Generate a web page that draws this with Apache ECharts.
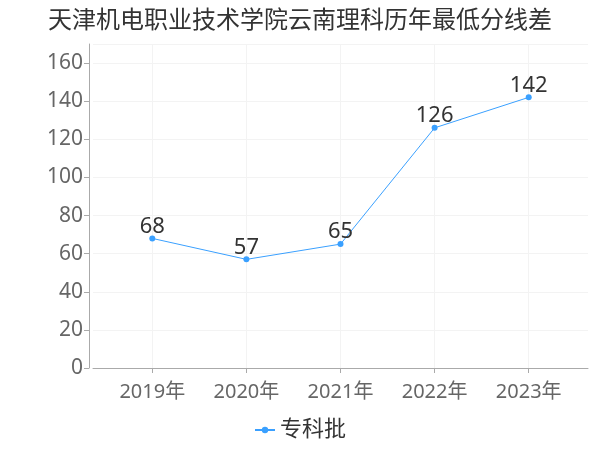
<!DOCTYPE html>
<html><head><meta charset="utf-8">
<script src="https://cdn.jsdelivr.net/npm/echarts@6/dist/echarts.min.js"></script>
<style>html,body{margin:0;padding:0;background:#fff}#c{width:600px;height:450px}</style>
</head><body><div id="c"></div>
<script>
const titleText = '天津机电职业技术学院云南理科历年最低分线差';
const years = [2019, 2020, 2021, 2022, 2023];
const yearLabels = ['2019年', '2020年', '2021年', '2022年', '2023年'];
const seriesName = '专科批';
const values = [68, 57, 65, 126, 142];

const font = '"Noto Sans", "Noto Sans CJK SC", sans-serif';
const chart = echarts.init(document.getElementById('c'));
chart.setOption({
  animation: false,
  textStyle: { fontFamily: font },
  title: {
    text: titleText, left: 'center', top: 4,
    textStyle: { fontSize: 24, fontWeight: 'normal', color: '#333', fontFamily: font }
  },
  legend: {
    bottom: 4, left: 'center', data: [seriesName],
    itemWidth: 20, itemHeight: 8,
    textStyle: { fontSize: 22, color: '#333', fontFamily: font }
  },
  grid: { left: 93, right: 12, top: 44, bottom: 82 },
  xAxis: {
    type: 'value', min: 2018.37, max: 2023.63,
    offset: 4,
    axisLine: { show: true, lineStyle: { color: '#aaa' } },
    axisTick: { show: true, customValues: years, lineStyle: { color: '#aaa' } },
    axisLabel: {
      customValues: years, fontSize: 20, color: '#666', margin: 10,
      formatter: v => yearLabels[years.indexOf(Math.round(v))] || ''
    },
    splitLine: { show: true, lineStyle: { color: '#f3f3f3' } }
  },
  yAxis: {
    type: 'value', min: 0, max: 170, interval: 20, offset: 4,
    axisLine: { show: true, lineStyle: { color: '#aaa' } },
    axisTick: { show: true, lineStyle: { color: '#aaa' } },
    axisLabel: { fontSize: 21, color: '#666', showMaxLabel: false, margin: 6 },
    splitLine: { show: true, lineStyle: { color: '#f3f3f3' } }
  },
  series: [{
    name: seriesName, type: 'line',
    data: years.map((y, i) => [y, values[i]]),
    symbol: 'circle', symbolSize: 6,
    itemStyle: { color: '#3aa0ff' },
    lineStyle: { color: '#3aa0ff', width: 1 },
    label: { show: true, position: 'top', fontSize: 22, color: '#333', distance: -2 }
  }]
});
</script></body></html>
